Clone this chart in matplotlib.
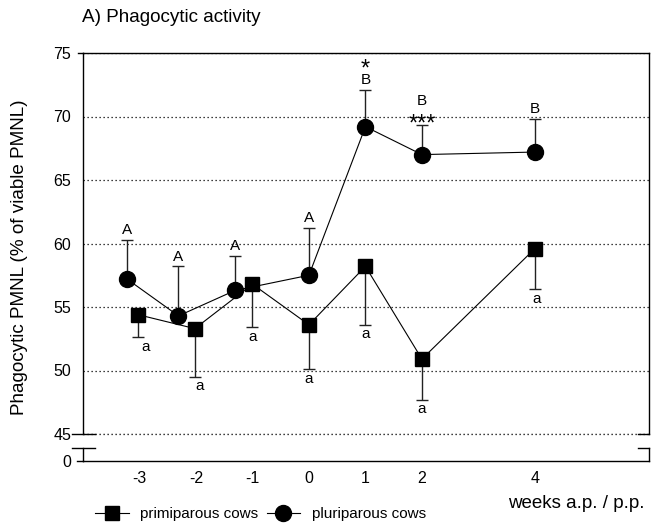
import matplotlib
matplotlib.use("Agg")
import matplotlib.pyplot as plt
from matplotlib.lines import Line2D

plt.rcParams['font.family'] = ['Liberation Sans', 'DejaVu Sans']

# ---- data ----
weeks_ticks = [-3, -2, -1, 0, 1, 2, 4]
tick_labels = ['-3', '-2', '-1', '0', '1', '2', '4']

pluri_x = [-3.22, -2.31, -1.31, 0, 1, 2, 4]
pluri_mean = [57.2, 54.3, 56.3, 57.5, 69.2, 67.0, 67.2]
pluri_sem = [3.1, 3.9, 2.7, 3.7, 2.9, 2.3, 2.6]

primi_x = [-3.03, -2.02, -1.0, 0, 1, 2, 4]
primi_mean = [54.4, 53.3, 56.8, 53.6, 58.2, 50.9, 59.6]
primi_sem = [1.8, 3.8, 3.4, 3.5, 4.6, 3.2, 3.2]

pluri_letters = ['A', 'A', 'A', 'A', 'B', 'B', 'B']
primi_letters = ['a', 'a', 'a', 'a', 'a', 'a', 'a']
stars = ['', '', '', '', '*', '***', '']

# ---- figure ----
W, H = 651, 532
fig = plt.figure(figsize=(W / 100, H / 100), dpi=100)

def fx(px):
    return px / W

def fy(py):
    return 1 - py / H

L, R = 83, 649
ax = fig.add_axes([fx(L), fy(434), fx(R) - fx(L), fy(53) - fy(434)])
axb = fig.add_axes([fx(L), fy(461), fx(R) - fx(L), fy(448) - fy(461)], sharex=ax)

xlim = (-4.0, 6.02)
ax.set_xlim(*xlim)
ax.set_ylim(45, 75)
axb.set_ylim(0, 1)

lw_sp = 1.0
for a in (ax, axb):
    for s in a.spines.values():
        s.set_linewidth(lw_sp)
ax.spines['bottom'].set_visible(False)
axb.spines['top'].set_visible(False)

grid_style = dict(linestyle=(0, (1, 2.2)), color='k', linewidth=0.9)
ax.set_yticks([45, 50, 55, 60, 65, 70, 75])
ax.tick_params(axis='y', length=0, pad=8.5, labelsize=11.5)
ax.tick_params(axis='x', length=0, labelbottom=False)
ax.yaxis.grid(True, **grid_style)
ax.set_axisbelow(True)
ax.axhline(45, clip_on=False, zorder=0.5, **grid_style)

axb.set_yticks([0])
axb.tick_params(axis='y', length=0, pad=8.5, labelsize=11.5)
axb.set_xticks(weeks_ticks)
axb.set_xticklabels(tick_labels)
axb.tick_params(axis='x', length=0, pad=7, labelsize=11.5)

# small tick marks and axis break marks
tick75 = Line2D([-5 / (R - L), 0], [75, 75], transform=ax.get_yaxis_transform(),
                color='k', lw=lw_sp, clip_on=False)
ax.add_line(tick75)
tick0 = Line2D([-6 / (R - L), 0], [0, 0], transform=axb.get_yaxis_transform(),
               color='k', lw=lw_sp, clip_on=False)
axb.add_line(tick0)
for a, yy in ((ax, 0), (axb, 1)):
    a.add_line(Line2D([-11 / (R - L), 12 / (R - L)], [yy, yy], transform=a.transAxes,
                      color='k', lw=lw_sp, clip_on=False, zorder=3))
    a.add_line(Line2D([1 - 11 / (R - L), 1], [yy, yy], transform=a.transAxes,
                      color='k', lw=lw_sp, clip_on=False, zorder=3))

# ---- series ----
ecol = '#222222'
ax.errorbar(primi_x, primi_mean, yerr=[primi_sem, [0] * len(primi_sem)], fmt='none',
            ecolor=ecol, elinewidth=1.0, capsize=4.2, capthick=1.0, zorder=2)
ax.errorbar(pluri_x, pluri_mean, yerr=[[0] * len(pluri_sem), pluri_sem], fmt='none',
            ecolor=ecol, elinewidth=1.0, capsize=4.2, capthick=1.0, zorder=2)
h1, = ax.plot(primi_x, primi_mean, color='k', lw=0.8, marker='s', markersize=10.3,
              markerfacecolor='k', markeredgecolor='k', zorder=3, clip_on=False)
h2, = ax.plot(pluri_x, pluri_mean, color='k', lw=0.8, marker='o', markersize=11.5,
              markerfacecolor='k', markeredgecolor='k', zorder=3, clip_on=False)

# ---- annotations ----
fs_lab = 11
fs_star = 17
a_dx = [5.4, 3.6, 0, 0, 0, 0, 1.0]
for i in range(len(primi_x)):
    low = primi_mean[i] - primi_sem[i]
    ax.annotate(primi_letters[i], (primi_x[i], low), xytext=(a_dx[i], -9.8),
                textcoords='offset points', ha='center', va='baseline', fontsize=fs_lab)

for i in range(len(pluri_x)):
    top = pluri_mean[i] + pluri_sem[i]
    if stars[i] == '*':
        ax.annotate(pluri_letters[i], (pluri_x[i], top), xytext=(0, 4.2),
                    textcoords='offset points', ha='center', va='baseline', fontsize=fs_lab)
        ax.annotate(stars[i], (pluri_x[i], top), xytext=(0, 10.4),
                    textcoords='offset points', ha='center', va='baseline', fontsize=fs_star)
    elif stars[i] == '***':
        ax.annotate(stars[i], (pluri_x[i], top), xytext=(0, -3.4),
                    textcoords='offset points', ha='center', va='baseline', fontsize=fs_star)
        ax.annotate(pluri_letters[i], (pluri_x[i], top), xytext=(0, 14.5),
                    textcoords='offset points', ha='center', va='baseline', fontsize=fs_lab)
    else:
        ax.annotate(pluri_letters[i], (pluri_x[i], top), xytext=(0, 4.2),
                    textcoords='offset points', ha='center', va='baseline', fontsize=fs_lab)

# ---- texts ----
fig.text(fx(82), fy(18), 'A) Phagocytic activity', ha='left', va='center', fontsize=13.6)
fig.text(fx(20), fy(257), 'Phagocytic PMNL (% of viable PMNL)', rotation=90,
         ha='center', va='center', fontsize=13.6)
fig.text(fx(645), fy(503), 'weeks a.p. / p.p.', ha='right', va='center', fontsize=13.5)

fig.legend([h1, h2], ['primiparous cows', 'pluriparous cows'], loc='center left',
           bbox_to_anchor=(fx(95), fy(514)), ncol=2, frameon=False, fontsize=11,
           handlelength=2.2, handletextpad=0.75, columnspacing=0.55,
           borderpad=0, borderaxespad=0, numpoints=1)

fig.savefig('out.png', dpi=100)
